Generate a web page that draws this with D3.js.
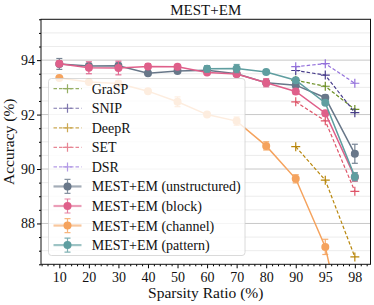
<!DOCTYPE html>
<html>
<head>
<meta charset="utf-8">
<script src="https://cdn.jsdelivr.net/npm/d3@7"></script>
<style>
  body { margin: 0; background: #fff; }
  svg text { font-family: "Liberation Serif", "DejaVu Serif", serif; fill: #111; }
</style>
</head>
<body>
<svg id="chart"></svg>
<script>
const WIDTH = 374;
const HEIGHT = 305;

// categories on the x axis (evenly spaced)
const sparsity = ['10', '20', '30', '40', '50', '60', '70', '80', '90', '95', '98'];
const yTicks = [88, 90, 92, 94];

// baselines (only 90/95/98)
const baseCats = ['90', '95', '98'];
const grasp = [93.26, 93.04, 92.19];
const snip = [93.62, 93.45, 92.07];
const deepr = [90.82, 89.59, 86.77];
const set = [92.47, 91.77, 89.18];
const dsr = [93.76, 93.87, 93.15];

// MEST+EM variants, mean and error
const unstructured = [93.86, 93.78, 93.79, 93.52, 93.60, 93.63, 93.50, 93.17, 93.08, 92.62, 90.56];
const unstructuredErr = [0.2, 0.1, 0.1, 0.05, 0.05, 0.05, 0.05, 0.1, 0.1, 0.1, 0.35];
const block = [93.87, 93.72, 93.71, 93.77, 93.76, 93.55, 93.49, 93.17, 92.85, 92.05, 89.70];
const blockErr = [0.1, 0.22, 0.25, 0.1, 0.05, 0.05, 0.1, 0.15, 0.1, 0.1, 0.15];
const channel = [93.34, 93.20, 93.14, 92.86, 92.47, 92.00, 91.76, 90.85, 89.64, 87.14, 82.3];
const channelErr = [0.05, 0.05, 0.1, 0.05, 0.18, 0.05, 0.15, 0.15, 0.15, 0.28, 0];
const patternCats = ['60', '70', '80', '90', '95', '98'];
const pattern = [93.68, 93.69, 93.56, 93.26, 92.43, 89.72];
const patternErr = [0.12, 0.15, 0.05, 0.05, 0.05, 0.15];

const baselines = [
    {name: 'GraSP', cats: baseCats, vals: grasp, color: '#6b8e23'},
    {name: 'SNIP', cats: baseCats, vals: snip, color: '#483d8b'},
    {name: 'DeepR', cats: baseCats, vals: deepr, color: '#b8860b'},
    {name: 'SET', cats: baseCats, vals: set, color: '#de5468'},
    {name: 'DSR', cats: baseCats, vals: dsr, color: '#9370db'}
];
const mest = [
    {name: 'MEST+EM (unstructured)', cats: sparsity, vals: unstructured, err: unstructuredErr, color: '#687789'},
    {name: 'MEST+EM (block)', cats: sparsity, vals: block, err: blockErr, color: '#df5f8a'},
    {name: 'MEST+EM (channel)', cats: sparsity, vals: channel, err: channelErr, color: '#f5a35e'},
    {name: 'MEST+EM (pattern)', cats: patternCats, vals: pattern, err: patternErr, color: '#5f9ea0'}
];

const margin = {left: 41, right: 3.5, top: 19.3, bottom: 40.7};
const plotW = WIDTH - margin.left - margin.right;
const plotH = HEIGHT - margin.top - margin.bottom;

const svg = d3.select('#chart').attr('width', WIDTH).attr('height', HEIGHT);

// index scale (matplotlib-like padding), categories are mapped through it
const xIdx = d3.scaleLinear().domain([-0.62, 10.53]).range([margin.left, margin.left + plotW]);
const x = function(cat) { return xIdx(sparsity.indexOf(cat)); };
const y = d3.scaleLinear().domain([86.5, 95.5]).range([margin.top + plotH, margin.top]);

// grid: minor every 0.5, major every 2
const minorY = d3.range(87, 95.51, 0.5).filter(v => yTicks.indexOf(v) < 0);
svg.append('g').selectAll('line').data(minorY).enter().append('line')
    .attr('x1', margin.left).attr('x2', margin.left + plotW)
    .attr('y1', d => y(d)).attr('y2', d => y(d))
    .attr('stroke', '#e6e6e6').attr('stroke-width', 0.8);
svg.append('g').selectAll('line').data(yTicks).enter().append('line')
    .attr('x1', margin.left).attr('x2', margin.left + plotW)
    .attr('y1', d => y(d)).attr('y2', d => y(d))
    .attr('stroke', '#c8c8c8').attr('stroke-width', 1);

svg.append('clipPath').attr('id', 'clip').append('rect')
    .attr('x', margin.left).attr('y', margin.top).attr('width', plotW).attr('height', plotH);

const plot = svg.append('g').attr('clip-path', 'url(#clip)');

// baselines: dashed with + markers
baselines.forEach(function(s) {
    const pts = s.cats.map((c, i) => [x(c), y(s.vals[i])]);
    plot.append('path')
        .attr('d', d3.line()(pts))
        .attr('fill', 'none').attr('stroke', s.color)
        .attr('stroke-width', 1.2).attr('stroke-dasharray', '3.5,2');
    plot.append('g').selectAll('path').data(pts).enter().append('path')
        .attr('d', d => 'M' + (d[0] - 4.5) + ',' + d[1] + 'h9M' + d[0] + ',' + (d[1] - 4.5) + 'v9')
        .attr('stroke', s.color).attr('stroke-width', 1.2);
});

// MEST+EM series: line, error bars, circle markers
mest.forEach(function(s) {
    const pts = s.cats.map((c, i) => [x(c), y(s.vals[i]), s.err[i], s.vals[i]]);
    const g = plot.append('g');
    g.append('path')
        .attr('d', d3.line()(pts.map(p => [p[0], p[1]])))
        .attr('fill', 'none').attr('stroke', s.color).attr('stroke-width', 1.5);
    const eb = g.append('g').attr('stroke', s.color).attr('stroke-width', 1.2).attr('opacity', 0.9);
    pts.filter(p => p[2] > 0).forEach(function(p) {
        const y0 = y(p[3] - p[2]), y1 = y(p[3] + p[2]);
        eb.append('line').attr('x1', p[0]).attr('x2', p[0]).attr('y1', y0).attr('y2', y1);
        eb.append('line').attr('x1', p[0] - 3).attr('x2', p[0] + 3).attr('y1', y0).attr('y2', y0);
        eb.append('line').attr('x1', p[0] - 3).attr('x2', p[0] + 3).attr('y1', y1).attr('y2', y1);
    });
    g.selectAll('circle').data(pts).enter().append('circle')
        .attr('cx', d => d[0]).attr('cy', d => d[1]).attr('r', 4)
        .attr('fill', s.color);
});

// axes
const yAxis = d3.axisLeft(y).tickValues(yTicks).tickSize(4).tickPadding(2).tickFormat(d3.format('d'));
const yg = svg.append('g').attr('transform', 'translate(' + margin.left + ',0)').call(yAxis);
yg.select('.domain').remove();
yg.selectAll('text').attr('font-size', 14).attr('font-family', '"Liberation Serif", serif');
svg.append('g').attr('transform', 'translate(' + margin.left + ',0)')
    .call(d3.axisLeft(y).tickValues(minorY.concat([86.5])).tickSize(2).tickFormat(''))
    .select('.domain').remove();

const xg = svg.append('g').attr('transform', 'translate(0,' + (margin.top + plotH) + ')')
    .call(d3.axisBottom(xIdx).tickValues(d3.range(11)).tickSize(4).tickPadding(3.5)
        .tickFormat(i => sparsity[i]));
xg.select('.domain').remove();
xg.selectAll('text').attr('font-size', 14).attr('font-family', '"Liberation Serif", serif');
const minorX = d3.range(-3, 53).map(k => k * 0.2).filter(v => Math.abs(v - Math.round(v)) > 0.01);
svg.append('g').attr('transform', 'translate(0,' + (margin.top + plotH) + ')')
    .call(d3.axisBottom(xIdx).tickValues(minorX).tickSize(2).tickFormat(''))
    .select('.domain').remove();

// frame
svg.append('rect').attr('x', margin.left).attr('y', margin.top)
    .attr('width', plotW).attr('height', plotH)
    .attr('fill', 'none').attr('stroke', '#111').attr('stroke-width', 1);

// legend
const leg = svg.append('g').attr('transform', 'translate(48.5,78.5)');
leg.append('rect').attr('width', 196.5).attr('height', 177).attr('rx', 3)
    .attr('fill', '#fff').attr('fill-opacity', 0.8).attr('stroke', '#d0d0d0').attr('stroke-width', 0.8);
baselines.forEach(function(s, i) {
    const ly = 10.2 + i * 19.55;
    const r = leg.append('g').attr('transform', 'translate(0,' + ly + ')').attr('opacity', 0.7);
    r.append('line').attr('x1', 5).attr('x2', 33).attr('y1', 0).attr('y2', 0)
        .attr('stroke', s.color).attr('stroke-width', 1.2).attr('stroke-dasharray', '3.5,2');
    r.append('path').attr('d', 'M14.5,0h9M19,-4.5v9').attr('stroke', s.color).attr('stroke-width', 1.2);
    leg.append('text').attr('x', 43.2).attr('y', ly + 5).attr('font-size', 14).text(s.name);
});
mest.forEach(function(s, i) {
    const ly = 10.2 + (i + 5) * 19.55;
    const r = leg.append('g').attr('transform', 'translate(0,' + ly + ')');
    r.append('line').attr('x1', 5).attr('x2', 33).attr('y1', 0).attr('y2', 0)
        .attr('stroke', s.color).attr('stroke-width', 2.2).attr('opacity', 0.6);
    r.append('path').attr('d', 'M19,-7v14M16,-7h6M16,7h6').attr('stroke', s.color)
        .attr('stroke-width', 1.2).attr('fill', 'none').attr('opacity', 0.8);
    r.append('circle').attr('cx', 19).attr('cy', 0).attr('r', 4).attr('fill', s.color);
    leg.append('text').attr('x', 43.2).attr('y', ly + 5).attr('font-size', 14).text(s.name);
});

// titles
svg.append('text').attr('x', margin.left + plotW / 2).attr('y', 15)
    .attr('text-anchor', 'middle').attr('font-size', 15).text('MEST+EM');
svg.append('text').attr('x', margin.left + plotW / 2).attr('y', 298)
    .attr('text-anchor', 'middle').attr('font-size', 15.5).text('Sparsity Ratio (%)');
svg.append('text').attr('transform', 'translate(14,' + (margin.top + plotH / 2) + ') rotate(-90)')
    .attr('text-anchor', 'middle').attr('font-size', 15.5).text('Accuracy (%)');
</script>
</body>
</html>
